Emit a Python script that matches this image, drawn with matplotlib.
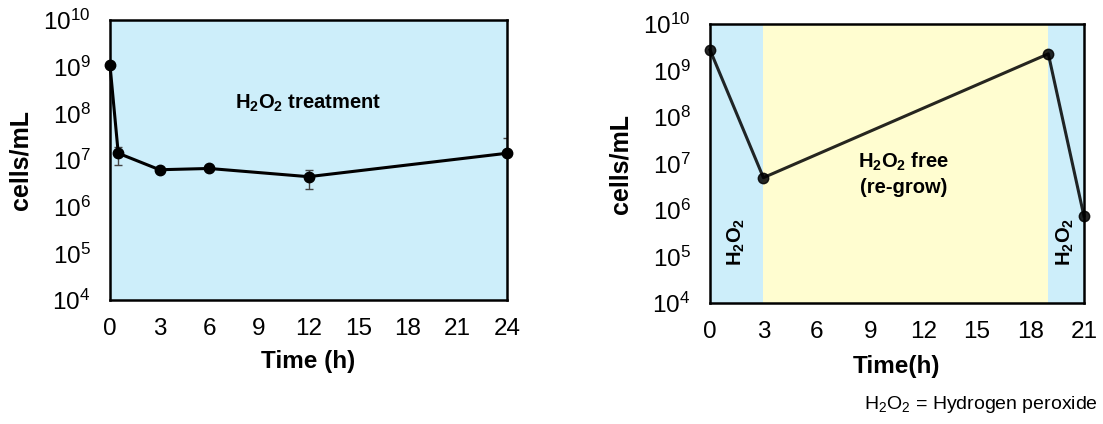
import numpy as np
import matplotlib
matplotlib.use("Agg")
import matplotlib.pyplot as plt

plt.rcParams['font.family'] = ['Liberation Sans', 'DejaVu Sans']
plt.rcParams['mathtext.fontset'] = 'custom'
plt.rcParams['mathtext.rm'] = 'Liberation Sans'
plt.rcParams['mathtext.bf'] = 'Liberation Sans:bold'

# left panel: continuous H2O2 treatment
time_a = [0, 0.5, 3, 6, 12, 24]
cells_a = [1.1e9, 1.4e7, 6.2e6, 6.6e6, 4.4e6, 1.4e7]
err_lo_a = [0, 6.0e6, 0, 0, 2.0e6, 0]
err_hi_a = [0, 5.5e6, 0, 0, 1.8e6, 1.6e7]
ticks_a = [0, 3, 6, 9, 12, 15, 18, 21, 24]

# right panel: treatment / re-grow / treatment
time_b = [0, 3, 19, 21]
cells_b = [2.8e9, 5.0e6, 2.3e9, 7.5e5]
ticks_b = [0, 3, 6, 9, 12, 15, 18, 21]
phases_b = [(0, 3, 'h2o2'), (3, 19, 'free'), (19, 21, 'h2o2')]

blue = '#cdeefa'
yellow = '#fffdd0'
yticks = [1e4, 1e5, 1e6, 1e7, 1e8, 1e9, 1e10]

fig = plt.figure(figsize=(11.03, 4.24), dpi=100)
ax1 = fig.add_axes([0.0997, 0.2925, 0.36, 0.660])
ax2 = fig.add_axes([0.6437, 0.285, 0.339, 0.658])


def style(ax, xmax, xticks):
    ax.set_yscale('log')
    ax.set_ylim(1e4, 1e10)
    ax.set_xlim(0, xmax)
    ax.set_yticks(yticks)
    ax.minorticks_off()
    ax.set_xticks(xticks)
    ax.tick_params(length=0, labelsize=17.5, pad=14)
    ax.tick_params(axis='x', pad=13)
    for s in ax.spines.values():
        s.set_linewidth(1.8)
        s.set_color('black')
    ax.set_ylabel('cells/mL', fontsize=18, fontweight='bold')
    ax.set_xlabel(ax.get_xlabel(), fontsize=17.5, fontweight='bold')


# left chart
ax1.set_facecolor(blue)
ax1.set_xlabel('Time (h)')
style(ax1, 24, ticks_a)
ax1.errorbar(time_a, cells_a, yerr=[err_lo_a, err_hi_a], fmt='none',
             ecolor='#444444', elinewidth=1, capsize=3, zorder=2)
ax1.plot(time_a, cells_a, color='black', lw=2.2, marker='o', ms=7.5,
         clip_on=False, zorder=3)
ax1.text(12, 10**8.22, r'$\mathbf{H_2O_2}$ treatment', fontsize=14.5,
         fontweight='bold', ha='center', va='center')
ax1.yaxis.set_label_coords(-0.194, 0.5)
ax1.xaxis.set_label_coords(0.5, -0.18)

# right chart
for x0, x1, kind in phases_b:
    ax2.axvspan(x0, x1, color=blue if kind == 'h2o2' else yellow, lw=0, zorder=0)
ax2.set_xlabel('Time(h)')
style(ax2, 21, ticks_b)
ax2.plot(time_b, cells_b, color='black', alpha=0.85, lw=2.2, marker='o', ms=7.5,
         clip_on=False, zorder=3)
ax2.text(10.85, 10**6.78, r'$\mathbf{H_2O_2}$ free' + '\n(re-grow)', fontsize=14.5,
         fontweight='bold', ha='center', va='center', linespacing=1.3)
ax2.text(1.5, 10**5.32, r'$\mathbf{H_2O_2}$', fontsize=14.5, rotation=90,
         ha='center', va='center')
ax2.text(19.95, 10**5.32, r'$\mathbf{H_2O_2}$', fontsize=14.5, rotation=90,
         ha='center', va='center')
ax2.yaxis.set_label_coords(-0.206, 0.5)
ax2.xaxis.set_label_coords(0.5, -0.185)

fig.text(0.995, 0.045, r'$\mathrm{H_2O_2}$ = Hydrogen peroxide', fontsize=14,
         ha='right', va='center')

fig.savefig('out.png', dpi=100)
